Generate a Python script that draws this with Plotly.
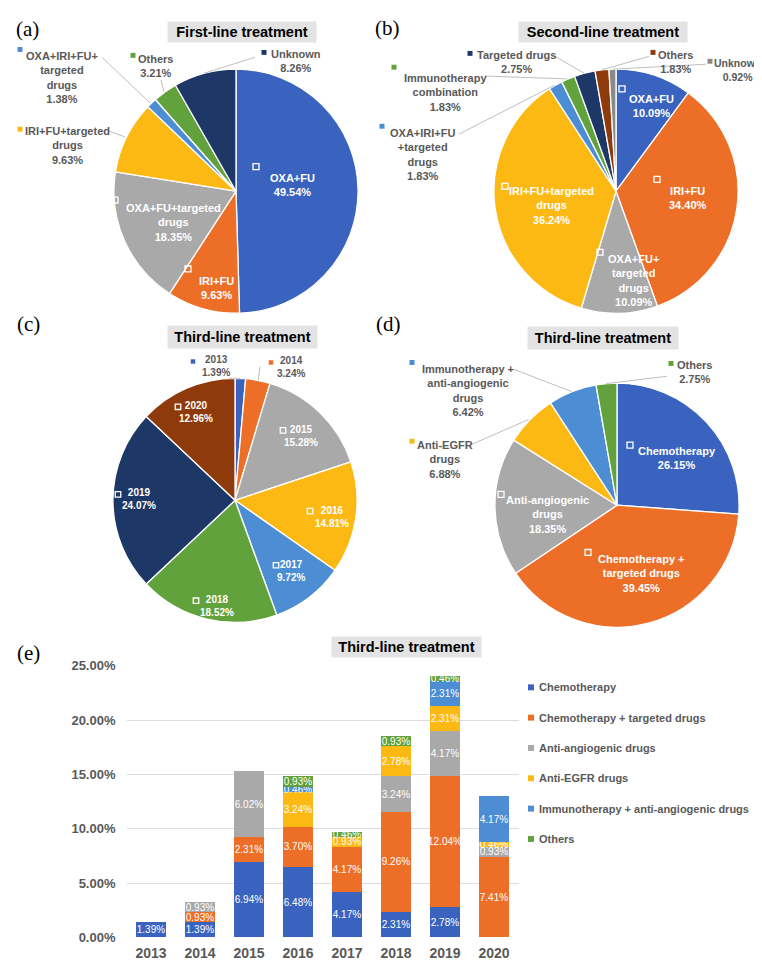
import math
import plotly.graph_objects as go

W, H = 762, 960
def X(px): return px / W
def Y(py): return 1 - py / H

BLUE = '#3A63C0'; ORANGE = '#EC6E27'; GRAY = '#A9A9A9'; GOLD = '#FDB913'
LBLUE = '#4C8DD3'; GREEN = '#62A23C'; NAVY = '#1D3767'; BROWN = '#8F3A0B'; DGRAY = '#8A8A8A'
TXT = '#595959'
FONT = 'Liberation Sans, Arial, sans-serif'

# ---------------- data ----------------
a_labels = ["OXA+FU", "IRI+FU", "OXA+FU+targeted drugs", "IRI+FU+targeted drugs",
            "OXA+IRI+FU+targeted drugs", "Others", "Unknown"]
a_values = [49.54, 9.63, 18.35, 9.63, 1.38, 3.21, 8.26]

b_labels = ["OXA+FU", "IRI+FU", "OXA+FU+targeted drugs", "IRI+FU+targeted drugs",
            "OXA+IRI+FU+targeted drugs", "Immunotherapy combination", "Targeted drugs",
            "Others", "Unknown"]
b_values = [10.09, 34.40, 10.09, 36.24, 1.83, 1.83, 2.75, 1.83, 0.92]

c_labels = ["2013", "2014", "2015", "2016", "2017", "2018", "2019", "2020"]
c_values = [1.39, 3.24, 15.28, 14.81, 9.72, 18.52, 24.07, 12.96]

d_labels = ["Chemotherapy", "Chemotherapy + targeted drugs", "Anti-angiogenic drugs",
            "Anti-EGFR drugs", "Immunotherapy + anti-angiogenic drugs", "Others"]
d_values = [26.15, 39.45, 18.35, 6.88, 6.42, 2.75]

years = ["2013", "2014", "2015", "2016", "2017", "2018", "2019", "2020"]
chemo      = [1.39, 1.39, 6.94, 6.48, 4.17, 2.31, 2.78, None]
chemo_targ = [None, 0.93, 2.31, 3.70, 4.17, 9.26, 12.04, 7.41]
anti_angio = [None, 0.93, 6.02, None, None, 3.24, 4.17, 0.93]
anti_egfr  = [None, None, None, 3.24, 0.93, 2.78, 2.31, 0.46]
immuno     = [None, None, None, 0.46, None, None, 2.31, 4.17]
others     = [None, None, None, 0.93, 0.46, 0.93, 0.46, None]
bar_series = [("Chemotherapy", chemo, BLUE),
              ("Chemotherapy + targeted drugs", chemo_targ, ORANGE),
              ("Anti-angiogenic drugs", anti_angio, GRAY),
              ("Anti-EGFR drugs", anti_egfr, GOLD),
              ("Immunotherapy + anti-angiogenic drugs", immuno, LBLUE),
              ("Others", others, GREEN)]
y_ticks = [0, 5, 10, 15, 20, 25]
y_ticktext = ['%.2f%%' % v for v in y_ticks]

a_colors = [BLUE, ORANGE, GRAY, GOLD, LBLUE, GREEN, NAVY]
b_colors = [BLUE, ORANGE, GRAY, GOLD, LBLUE, GREEN, NAVY, BROWN, DGRAY]
c_colors = [BLUE, ORANGE, GRAY, GOLD, LBLUE, GREEN, NAVY, BROWN]
d_colors = [BLUE, ORANGE, GRAY, GOLD, LBLUE, GREEN]

fig = go.Figure()
shapes = []
anns = []

def add_pie(labels, values, colors, cx, cy, R):
    fig.add_trace(go.Pie(
        labels=labels, values=values, sort=False, direction='clockwise', rotation=0,
        marker=dict(colors=colors, line=dict(color='white', width=1.3)),
        domain=dict(x=[X(cx - R), X(cx + R)], y=[Y(cy + R), Y(cy - R)]),
        textinfo='none', hoverinfo='label+percent', showlegend=False))

def edge(values, i, cx, cy, R):
    cum = sum(values[:i]) + values[i] / 2.0
    th = 2 * math.pi * cum / sum(values)
    return cx + R * math.sin(th), cy - R * math.cos(th)

def text(x, y, t, color, size=11, bold=True, xanchor='center'):
    anns.append(dict(x=X(x), y=Y(y), xref='paper', yref='paper', showarrow=False,
                     text=('<b>%s</b>' % t) if bold else t, align='center',
                     font=dict(family=FONT, size=size, color=color),
                     xanchor=xanchor, yanchor='middle'))

def hollow(x, y, s=6):
    shapes.append(dict(type='rect', xref='paper', yref='paper',
                       x0=X(x - s / 2), x1=X(x + s / 2), y0=Y(y + s / 2), y1=Y(y - s / 2),
                       line=dict(color='white', width=1.3), fillcolor='rgba(0,0,0,0)'))

def filled(x, y, color, s=5):
    shapes.append(dict(type='rect', xref='paper', yref='paper',
                       x0=X(x - s / 2), x1=X(x + s / 2), y0=Y(y + s / 2), y1=Y(y - s / 2),
                       line=dict(width=0), fillcolor=color))

def leader(x0, y0, x1, y1):
    shapes.append(dict(type='line', xref='paper', yref='paper',
                       x0=X(x0), y0=Y(y0), x1=X(x1), y1=Y(y1),
                       line=dict(color='#BFBFBF', width=1)))

def title_box(cx, cy, w, h, t):
    anns.append(dict(x=X(cx), y=Y(cy), xref='paper', yref='paper', showarrow=False,
                     text='<b>%s</b>' % t, width=w, height=h, bgcolor='#E3E3E3',
                     borderpad=0, font=dict(family=FONT, size=14.5, color='black'),
                     xanchor='center', yanchor='middle', valign='middle'))

def panel(x, y, t):
    anns.append(dict(x=X(x), y=Y(y), xref='paper', yref='paper', showarrow=False,
                     text=t, font=dict(family='Liberation Serif, Times New Roman, serif',
                                       size=21, color='black'),
                     xanchor='center', yanchor='middle'))

def pct(v):
    return '%.2f%%' % v

# ---------------- (a) ----------------
acx, acy, aR = 228, 179, 124
add_pie(a_labels, a_values, a_colors, acx, acy, aR)
panel(19, 14, '(a)')
title_box(234, 17.5, 148, 20, 'First-line treatment')
a_disp = ["OXA+FU", "IRI+FU", "OXA+FU+targeted<br>drugs", "IRI+FU+targeted<br>drugs",
          "OXA+IRI+FU+<br>targeted<br>drugs", "Others", "Unknown"]
a_inside = {0: ((284, 173), (248, 154)), 1: ((208, 277), (180, 258)), 2: ((165, 211), (107, 188))}
a_outside = {3: ((59, 133), (12, 116), (101, 118)),
             4: ((54, 63), (12, 35), (94, 43)),
             5: ((147, 52), (125, 41), (153, 66)),
             6: ((288, 47), (256, 38), (247, 43))}
for i, ((tx, ty), (sx, sy)) in a_inside.items():
    text(tx, ty, a_disp[i] + '<br>' + pct(a_values[i]), 'white')
    hollow(sx, sy)
for i, ((tx, ty), (mx, my), (lx, ly)) in a_outside.items():
    text(tx, ty, a_disp[i] + '<br>' + pct(a_values[i]), TXT)
    filled(mx, my, a_colors[i])
    ex, ey = edge(a_values, i, acx, acy, aR)
    leader(lx, ly, ex, ey)

# ---------------- (b) ----------------
bcx, bcy, bR = 608, 179, 124
add_pie(b_labels, b_values, b_colors, bcx, bcy, bR)
panel(379, 13, '(b)')
title_box(595, 17.5, 168, 20, 'Second-line treatment')
b_disp = ["OXA+FU", "IRI+FU", "OXA+FU+<br>targeted<br>drugs", "IRI+FU+targeted<br>drugs",
          "OXA+IRI+FU<br>+targeted<br>drugs", "Immunotherapy<br>combination", "Targeted drugs",
          "Others", "Unknown"]
b_inside = {0: ((643, 92), (614, 75)), 1: ((680, 186), (649, 167)),
            2: ((625, 270), (592, 241)), 3: ((543, 194), (497, 174))}
b_outside = {4: ((414, 142), (374, 113), (451, 121)),
             5: ((437, 79), (386, 53), (477, 62)),
             6: ((508, 48), (462, 39), (547, 42)),
             7: ((667, 48), (645, 38), (641, 42)),
             8: ((729, 56), (702, 47), (698, 50))}
for i, ((tx, ty), (sx, sy)) in b_inside.items():
    text(tx, ty, b_disp[i] + '<br>' + pct(b_values[i]), 'white')
    hollow(sx, sy)
for i, ((tx, ty), (mx, my), (lx, ly)) in b_outside.items():
    text(tx, ty, b_disp[i] + '<br>' + pct(b_values[i]), TXT, size=(10.5 if i == 8 else 11))
    filled(mx, my, b_colors[i])
    ex, ey = edge(b_values, i, bcx, bcy, bR)
    leader(lx, ly, ex, ey)

# ---------------- (c) ----------------
ccx, ccy, cR = 227, 493, 124
add_pie(c_labels, c_values, c_colors, ccx, ccy, cR)
panel(20, 314, '(c)')
title_box(234, 327, 149, 22, 'Third-line treatment')
c_inside = {2: ((293, 428), (275, 422)), 3: ((324, 510), (302, 504)),
            4: ((283, 565), (268, 559)), 5: ((209, 600), (188, 595)),
            6: ((131, 492), (110, 487)), 7: ((188, 403), (170, 398))}
c_outside = {0: ((208, 357), (185, 352), (221, 369)),
             1: ((283, 358), (263, 353), (252, 357))}
for i, ((tx, ty), (sx, sy)) in c_inside.items():
    text(tx, ty, c_labels[i] + '<br>' + pct(c_values[i]), 'white', size=10)
    hollow(sx, sy, 5.5)
for i, ((tx, ty), (mx, my), (lx, ly)) in c_outside.items():
    text(tx, ty, c_labels[i] + '<br>' + pct(c_values[i]), TXT, size=10)
    filled(mx, my, c_colors[i], 4.5)
    ex, ey = edge(c_values, i, ccx, ccy, cR)
    leader(lx, ly, ex, ey)

# ---------------- (d) ----------------
dcx, dcy, dR = 609, 498, 124
add_pie(d_labels, d_values, d_colors, dcx, dcy, dR)
panel(380, 314, '(d)')
title_box(595, 328.5, 150, 22, 'Third-line treatment')
d_disp = ["Chemotherapy", "Chemotherapy +<br>targeted drugs", "Anti-angiogenic<br>drugs",
          "Anti-EGFR<br>drugs", "Immunotherapy +<br>anti-angiogenic<br>drugs", "Others"]
d_inside = {0: ((669, 450), (622, 437)), 1: ((633, 567), (580, 546)), 2: ((539, 507), (493, 487))}
d_outside = {3: ((437, 452), (404, 433), (464, 436)),
             4: ((460, 381), (404, 353), (506, 360)),
             5: ((686, 363), (663, 354), (659, 367))}
for i, ((tx, ty), (sx, sy)) in d_inside.items():
    text(tx, ty, d_disp[i] + '<br>' + pct(d_values[i]), 'white')
    hollow(sx, sy)
for i, ((tx, ty), (mx, my), (lx, ly)) in d_outside.items():
    text(tx, ty, d_disp[i] + '<br>' + pct(d_values[i]), TXT)
    filled(mx, my, d_colors[i])
    ex, ey = edge(d_values, i, dcx, dcy, dR)
    leader(lx, ly, ex, ey)

# ---------------- (e) ----------------
panel(20, 648, '(e)')
title_box(398, 642.5, 149, 20, 'Third-line treatment')
for k, (name, vals, col) in enumerate(bar_series):
    fig.add_trace(go.Bar(
        x=years, y=vals, name=name, showlegend=False,
        marker=dict(color=col, line=dict(width=0)),
        texttemplate='%{y:.2f}%', textposition='inside', insidetextanchor='middle',
        textangle=0, constraintext='none',
        textfont=dict(family=FONT, size=10, color='white'),
        xaxis='x', yaxis='y', hovertemplate='%{x}: %{y:.2f}%<extra>' + name + '</extra>'))
    # legend entry (key square + label)
    ly = 683 + k * 30.8
    filled(523, ly, col, 6)
    text(528.5, ly, name, TXT, size=11, xanchor='left')

fig.update_layout(
    width=W, height=H, margin=dict(l=0, r=0, t=0, b=0),
    paper_bgcolor='white', plot_bgcolor='white',
    barmode='stack', bargap=0.37, showlegend=False,
    xaxis=dict(domain=[X(118.5), X(510.5)], anchor='y', type='category',
               showgrid=False, showline=False, ticks='', ticklabelstandoff=6,
               tickfont=dict(family=FONT, size=14, color=TXT, weight='bold')),
    yaxis=dict(domain=[Y(937), Y(661)], anchor='x', range=[0, 25],
               tickmode='array', tickvals=y_ticks, ticktext=y_ticktext,
               showgrid=True, gridcolor='#DDDDDD', gridwidth=1, zeroline=False,
               showline=False, ticks='', ticklabelstandoff=10,
               tickfont=dict(family=FONT, size=13, color=TXT, weight='bold')),
    shapes=shapes, annotations=anns,
)

fig.write_html("out.html")
